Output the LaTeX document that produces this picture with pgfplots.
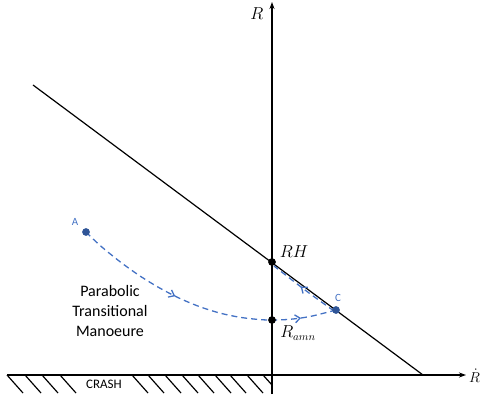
\documentclass[border=0pt]{standalone}
\usepackage{fontspec}
\setmainfont{Carlito}
\usepackage{pgfplots}
\pgfplotsset{compat=1.18}
\usetikzlibrary{arrows.meta,decorations.markings}
\definecolor{mblue}{HTML}{4472C4}
\definecolor{dblue}{HTML}{2F5597}
\begin{document}
\begin{tikzpicture}
\begin{axis}[
  scale only axis, width=481pt, height=403pt,
  xmin=0, xmax=481, ymin=0, ymax=403, y dir=reverse,
  hide axis, clip=false,
]
\path (axis cs:0,0) rectangle (axis cs:481,403);
% axes
\addplot[black, line width=1.2pt, -{Stealth[length=7pt,width=5pt]}] coordinates {(7,375) (466,375)};
\addplot[black, line width=1.2pt, -{Stealth[length=7pt,width=5pt]}] coordinates {(272,394) (272,2)};
% diagonal line
\addplot[black, line width=1.2pt] coordinates {(33,85) (423,375)};
% hatch
\addplot[black, line width=1.2pt, quiver={u=16, v=18}] coordinates {
  (7,375) (25,375) (42,375) (60,375)
  (132,375) (148,375) (165,375) (182,375) (198,375) (215,375) (230,375) (247,375)};
\addplot[black, line width=1.2pt] coordinates {(263,375) (272,385)};
% parabolic manoeuvre A -> C
\addplot[mblue, line width=1.3pt, dash pattern=on 6pt off 4pt, smooth,
  postaction={decorate},
  decoration={markings,
    mark=at position 0.40 with {\arrow[solid]{Straight Barb[length=5pt,width=8pt]}},
    mark=at position 0.87 with {\arrow[solid]{Straight Barb[length=5pt,width=8pt]}}}]
  coordinates {
  (86,232) (100,245.4) (120,261.7) (140,276.0) (160,288.2) (180,298.5)
  (200,306.8) (220,313.1) (240,317.3) (260,319.6) (272.7,320) (290,319.3)
  (310,316.5) (336,310)};
% return C -> RH
\addplot[mblue, line width=1.3pt, dash pattern=on 6pt off 4pt, smooth,
  postaction={decorate},
  decoration={markings,
    mark=at position 0.55 with {\arrow[solid]{Straight Barb[length=5pt,width=8pt]}}}]
  coordinates {(334,311) (305,290) (274,266)};
% points
\addplot[only marks, mark=*, mark size=3.6pt, black] coordinates {(272,262) (272,320)};
\addplot[only marks, mark=*, mark size=3.6pt, dblue] coordinates {(86,232) (336,310)};
% labels
\node[font=\fontsize{16}{19}\selectfont] at (axis cs:257,14) {$R$};
\node[font=\fontsize{15}{18}\selectfont, anchor=west, inner sep=0pt] at (axis cs:469,376) {$\dot{R}$};
\node[font=\fontsize{17}{20}\selectfont] at (axis cs:294,252) {$RH$};
\node[font=\fontsize{16}{19}\selectfont] at (axis cs:298,333) {$R_{amn}$};
\node[font=\fontsize{11}{13}\selectfont, text=mblue] at (axis cs:75,222) {A};
\node[font=\fontsize{11}{13}\selectfont, text=mblue] at (axis cs:338,298) {C};
\node[font=\fontsize{13}{16}\selectfont] at (axis cs:104,384) {CRASH};
\node[font=\fontsize{16}{20}\selectfont, align=center] at (axis cs:110,311)
  {Parabolic\\Transitional\\Manoeure};
\end{axis}
\end{tikzpicture}
\end{document}
